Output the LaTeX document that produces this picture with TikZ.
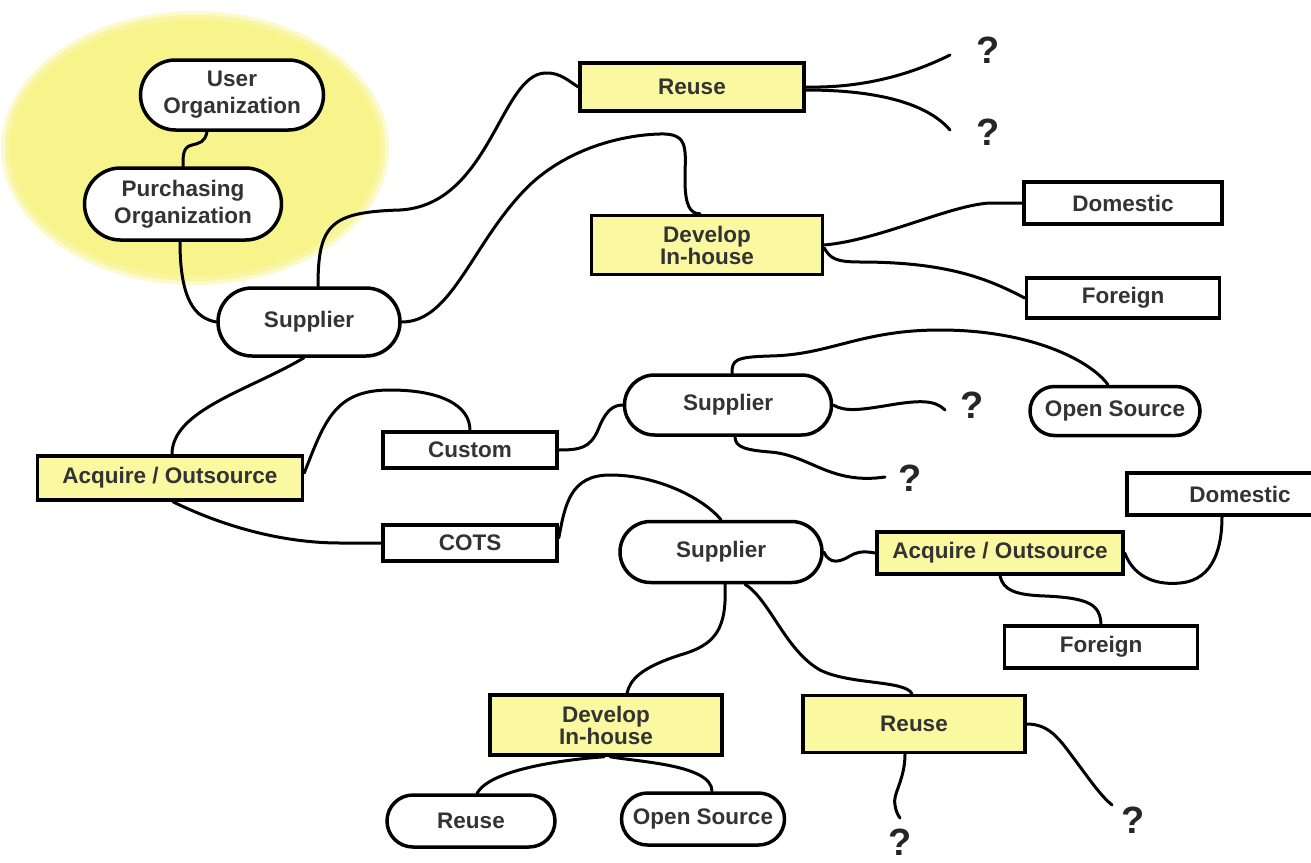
\documentclass[tikz,border=0pt]{standalone}
\usepackage{fontspec}
\setmainfont{Liberation Sans}
\usetikzlibrary{shapes.misc}
\definecolor{yboxc}{HTML}{FAF8A0}
\definecolor{yellc}{HTML}{F8F48C}
\definecolor{txtc}{HTML}{333333}
\pgfdeclarelayer{bg}
\pgfsetlayers{bg,main}
\begin{document}
\begin{tikzpicture}[x=1pt,y=-1pt,
 every node/.style={font=\fontsize{22.5}{25}\selectfont\bfseries, text=txtc, inner sep=0pt},
 base/.style={draw=black, line width=3.5pt, align=center},
 ybox/.style={base, rectangle, fill=yboxc},
 wbox/.style={base, rectangle, fill=white},
 pill/.style={base, rounded rectangle, fill=white},
 tight/.style={font=\fontsize{22.5}{19}\selectfont\bfseries},
 loose/.style={font=\fontsize{22.5}{27}\selectfont\bfseries},
 conn/.style={line width=3pt, black, line cap=round},
 qmark/.style={font=\fontsize{38}{40}\selectfont\bfseries, text=black!85}
]
\useasboundingbox (0,0) rectangle (1311,862);
\clip (0,0) rectangle (1311,862);

% nodes
\node[pill, loose, minimum width=183pt, minimum height=70pt] (uo) at (232,95) {User\\Organization};
\node[pill, loose, minimum width=197pt, minimum height=72pt] (po) at (183,204) {Purchasing\\Organization};
\node[pill, minimum width=182pt, minimum height=68pt] (s1) at (309,322) {Supplier};
\node[ybox, minimum width=224pt, minimum height=48pt] (reuse1) at (692,87) {Reuse};
\node[ybox, tight, minimum width=231pt, minimum height=59pt] (dev1) at (707,245) {Develop\\In-house};
\node[wbox, minimum width=198pt, minimum height=42pt] (dom1) at (1123,203) {Domestic};
\node[wbox, minimum width=193pt, minimum height=40pt] (for1) at (1123,298) {Foreign};
\node[ybox, minimum width=265pt, minimum height=44pt] (acq1) at (170,478) {Acquire / Outsource};
\node[wbox, minimum width=174pt, minimum height=36pt] (custom) at (470,450) {Custom};
\node[wbox, minimum width=174pt, minimum height=36pt] (cots) at (470,543) {COTS};
\node[pill, minimum width=207pt, minimum height=60pt] (s2) at (728,405) {Supplier};
\node[pill, minimum width=170pt, minimum height=49pt] (os1) at (1115,411) {Open Source};
\node[pill, minimum width=202pt, minimum height=61pt] (s3) at (721,552) {Supplier};
\node[ybox, minimum width=246pt, minimum height=42pt] (acq2) at (1000,553) {Acquire / Outsource};
\node[wbox, minimum width=226pt, minimum height=42pt] (dom2) at (1240,494) {Domestic};
\node[wbox, minimum width=193pt, minimum height=42pt] (for2) at (1101,647) {Foreign};
\node[ybox, tight, minimum width=232pt, minimum height=60pt] (dev2) at (606,725) {Develop\\In-house};
\node[ybox, minimum width=222pt, minimum height=57pt] (reuse2) at (914,724) {Reuse};
\node[pill, minimum width=168pt, minimum height=52pt] (reuse3) at (471,821) {Reuse};
\node[pill, minimum width=163pt, minimum height=52pt] (os2) at (703,819) {Open Source};

% question marks
\node[qmark] (q1) at (988,50) {?};
\node[qmark] (q2) at (988,132) {?};
\node[qmark] (q3) at (972,405) {?};
\node[qmark] (q4) at (910,478) {?};
\node[qmark] (q5) at (900,842) {?};
\node[qmark] (q6) at (1133,820) {?};

\coordinate (e1) at (950,55);
\coordinate (e2) at (950,130);
\coordinate (e3) at (945,410);
\coordinate (e4) at (885,477);
\coordinate (e5) at (900,818);
\coordinate (e6) at (1112,805);

\begin{pgfonlayer}{bg}
\fill[yellc!45] (195,148) ellipse [x radius=194pt, y radius=137pt];
\fill[yellc!80] (195,148) ellipse [x radius=190pt, y radius=133pt];
\fill[yellc] (195,148) ellipse [x radius=185pt, y radius=128pt];

\draw[conn] ([xshift=-25pt]uo.south) .. controls (205,142) and (200,143) .. (192,145) .. controls (183,147) and (183,155) .. (po.north);
\draw[conn] ([xshift=-3pt]po.south) .. controls (180,300) and (195,318) .. (s1.west);
\draw[conn] ([xshift=9pt]s1.north) .. controls (318,225) and (330,212) .. (400,210) .. controls (490,205) and (500,75) .. (545,73) .. controls (560,72) and (570,82) .. (reuse1.west);
\draw[conn] (s1.east) .. controls (450,322) and (470,250) .. (520,195) .. controls (560,150) and (620,135) .. (660,134) .. controls (690,133) and (685,150) .. (685,180) .. controls (685,205) and (690,214) .. ([xshift=-7pt]dev1.north);
\draw[conn] (reuse1.east) .. controls (850,88) and (900,80) .. (e1);
\draw[conn] ([yshift=-3pt]reuse1.east) .. controls (850,90) and (920,95) .. (e2);
\draw[conn] (dev1.east) .. controls (880,240) and (950,205) .. (990,203) -- (dom1.west);
\draw[conn] ([yshift=-3pt]dev1.east) .. controls (830,258) and (835,262) .. (860,262) .. controls (950,262) and (990,280) .. (for1.west);
\draw[conn] ([xshift=-5pt]s1.south) .. controls (250,390) and (172,410) .. ([xshift=2pt]acq1.north);
\draw[conn] ([yshift=5pt]acq1.east) .. controls (325,420) and (335,390) .. (390,390) .. controls (440,390) and (470,405) .. (custom.north);
\draw[conn] ([xshift=3pt]acq1.south) .. controls (220,525) and (280,543) .. (340,543) -- (cots.west);
\draw[conn] (custom.east) .. controls (580,450) and (590,448) .. (598,430) .. controls (605,412) and (612,405) .. (s2.west);
\draw[conn] ([xshift=4pt]s2.north) .. controls (732,360) and (735,357) .. (770,356) .. controls (830,355) and (860,330) .. (940,330) .. controls (1030,330) and (1090,360) .. ([xshift=-7pt]os1.north);
\draw[conn] (s2.east) .. controls (845,412) and (860,410) .. (890,405) .. controls (920,400) and (935,400) .. (e3);
\draw[conn] ([xshift=7pt]s2.south) .. controls (735,447) and (745,450) .. (770,452) .. controls (810,455) and (830,485) .. (e4);
\draw[conn] ([yshift=5pt]cots.east) .. controls (565,505) and (570,475) .. (610,475) .. controls (660,475) and (705,500) .. (s3.north);
\draw[conn] (s3.east) .. controls (830,565) and (840,562) .. (850,556) .. controls (860,550) and (868,552) .. (acq2.west);
\draw[conn] (acq2.east) .. controls (1135,580) and (1160,585) .. (1180,583) .. controls (1215,580) and (1222,545) .. ([xshift=-18pt]dom2.south);
\draw[conn] (acq2.south) .. controls (1003,590) and (1015,595) .. (1045,596) .. controls (1090,598) and (1100,605) .. (for2.north);
\draw[conn] ([xshift=4pt]s3.south) .. controls (727,630) and (715,645) .. (680,655) .. controls (640,668) and (630,680) .. ([xshift=21pt]dev2.north);
\draw[conn] ([xshift=24pt]s3.south) .. controls (770,600) and (785,650) .. (820,670) .. controls (850,685) and (905,680) .. ([xshift=-2pt]reuse2.north);
\draw[conn] ([xshift=-2pt]dev2.south) .. controls (560,760) and (490,770) .. ([xshift=6pt]reuse3.north);
\draw[conn] ([xshift=4pt]dev2.south) .. controls (640,762) and (712,765) .. ([xshift=9pt]os2.north);
\draw[conn] ([xshift=-9pt]reuse2.south) .. controls (905,780) and (892,795) .. (895,805) .. controls (896,812) and (898,815) .. (e5);
\draw[conn] (reuse2.east) .. controls (1050,724) and (1060,740) .. (1075,760) .. controls (1090,780) and (1100,795) .. (e6);
\end{pgfonlayer}
\end{tikzpicture}
\end{document}
